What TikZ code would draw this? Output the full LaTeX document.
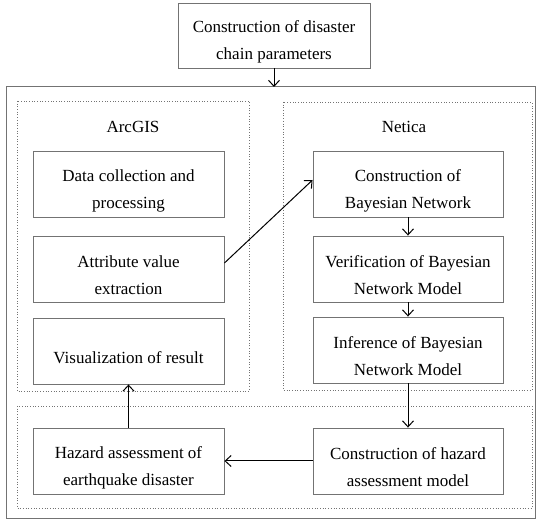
\documentclass[tikz,border=0pt]{standalone}
\usepackage{fontspec}
\setmainfont{Liberation Serif}
\usetikzlibrary{arrows.meta}
\begin{document}
\begin{tikzpicture}[x=1pt,y=-1pt,
  txt/.style={align=center,inner sep=0pt,yshift=-6.5pt,font=\fontsize{17}{27}\selectfont},
  box/.style={draw=black!55,line width=0.9pt,minimum width=191pt,minimum height=66pt,inner sep=0pt,label={[txt]center:{#1}}},
  grp/.style={draw=black!55,dotted,line width=0.7pt},
  lbl/.style={font=\fontsize{17}{27}\selectfont},
  arr/.style={-{Straight Barb[length=6pt,width=11pt]},line width=1pt,black}]
\useasboundingbox (0,0) rectangle (550,524);
% outer frame
\draw[draw=black!55,line width=1pt] (6,87) rectangle (535,518);
\coordinate (outtop) at (274,87);
% groups
\draw[grp] (17,101) rectangle (249,391);
\draw[grp] (283,102) rectangle (532,390);
\draw[grp] (17,406) rectangle (532,508);
\node[lbl] (arcgis) at (133,127) {ArcGIS};
\node[lbl] (netica) at (404,127) {Netica};
% nodes
\node[box={Construction of disaster\\chain parameters},minimum width=192pt,minimum height=65pt] (top) at (274,35.5) {};
\node[box={Data collection and\\processing}] (data) at (128.5,184) {};
\node[box={Attribute value\\extraction}] (attr) at (128.5,269) {};
\node[box={Visualization of result}] (vis) at (128.5,351) {};
\node[box={Construction of\\Bayesian Network},minimum width=190pt] (bn) at (408,184) {};
\node[box={Verification of Bayesian\\Network Model},minimum width=190pt] (ver) at (408,269) {};
\node[box={Inference of Bayesian\\Network Model},minimum width=190pt] (inf) at (408,350) {};
\node[box={Hazard assessment of\\earthquake disaster}] (haz) at (128.5,461) {};
\node[box={Construction of hazard\\assessment model},minimum width=190pt] (cons) at (408,461) {};
% connectors
\draw[arr] (top.south) -- (outtop);
\draw[arr] ([yshift=6pt]attr.east) -- ([yshift=4pt]bn.west);
\draw[arr] (bn) -- (ver);
\draw[arr] (ver) -- (inf);
\draw[arr] (inf) -- (cons);
\draw[arr] (cons) -- (haz);
\draw[arr] (haz) -- (vis);
\end{tikzpicture}
\end{document}
